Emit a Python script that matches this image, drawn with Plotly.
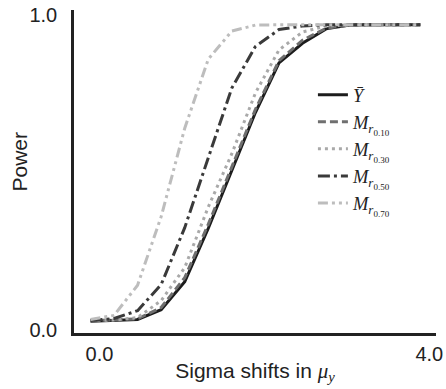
import plotly.graph_objects as go

# Sigma shifts (x) and power values for each statistic
shifts = [0.0, 0.286, 0.571, 0.857, 1.143, 1.429, 1.714, 2.0, 2.286, 2.571, 2.857, 3.143, 3.429, 3.714, 4.0]

power_ybar = [0.026, 0.028, 0.032, 0.063, 0.152, 0.322, 0.505, 0.69, 0.848, 0.91, 0.956, 0.968, 0.969, 0.969, 0.969]
power_m010 = [0.028, 0.030, 0.034, 0.070, 0.165, 0.335, 0.520, 0.70, 0.855, 0.92, 0.958, 0.968, 0.969, 0.969, 0.969]
power_m030 = [0.029, 0.030, 0.038, 0.092, 0.197, 0.390, 0.559, 0.752, 0.889, 0.946, 0.965, 0.969, 0.969, 0.969, 0.969]
power_m050 = [0.029, 0.035, 0.060, 0.143, 0.324, 0.546, 0.768, 0.900, 0.954, 0.965, 0.969, 0.969, 0.969, 0.969, 0.969]
power_m070 = [0.032, 0.045, 0.141, 0.359, 0.640, 0.860, 0.949, 0.968, 0.969, 0.969, 0.969, 0.969, 0.969, 0.969, 0.969]

series_names = [
    "<i>Ȳ</i>",
    "<i>M</i><sub><i>r</i><sub>0.10</sub></sub>",
    "<i>M</i><sub><i>r</i><sub>0.30</sub></sub>",
    "<i>M</i><sub><i>r</i><sub>0.50</sub></sub>",
    "<i>M</i><sub><i>r</i><sub>0.70</sub></sub>",
]
series_values = [power_ybar, power_m010, power_m030, power_m050, power_m070]
series_colors = ["#1c1c1c", "#6f6f6f", "#a9a9a9", "#3a3a3a", "#bdbdbd"]
series_dash = ["solid", "8px,4px", "3px,4px", "12px,4px,3px,4px", "10px,4px,3px,4px,3px,4px"]

x_ticks = [0, 4]
x_ticktext = ["0.0", "4.0"]
y_ticks = [0, 1]
y_ticktext = ["0.0", "1.0"]
x_title = ("Sigma shifts in <span style='font-family:Liberation Serif'><i>μ</i>"
           "<sub><i>y</i></sub></span>")
y_title = "Power"

fig = go.Figure()
for name, vals, col, dash in zip(series_names, series_values, series_colors, series_dash):
    fig.add_trace(go.Scatter(x=shifts, y=vals, mode="lines", name=name,
                             line=dict(color=col, width=3, dash=dash)))

fig.update_layout(
    width=446, height=389,
    margin=dict(l=73.5, r=10, t=10, b=55.5, autoexpand=False),
    paper_bgcolor="white", plot_bgcolor="white",
    font=dict(family="Liberation Sans, Arial, sans-serif", size=20, color="#222"),
    showlegend=True,
    legend=dict(x=0.66, y=0.795, xanchor="left", yanchor="top",
                font=dict(family="Liberation Serif, Times New Roman, serif", size=18.5, color="#222"),
                bgcolor="rgba(0,0,0,0)", tracegroupgap=0),
    annotations=[dict(text=y_title, textangle=-90, xref="paper", yref="paper",
                      x=-0.150, y=0.530, xanchor="center", yanchor="middle",
                      showarrow=False, font=dict(size=21))],
)
fig.update_xaxes(range=[-0.2, 4.19], showgrid=False, zeroline=False, automargin=False,
                 showline=True, linecolor="#222", linewidth=2.5,
                 tickvals=x_ticks, ticktext=x_ticktext, ticks="",
                 ticklabelshift=9, ticklabelstandoff=1,
                 title=dict(text=x_title, standoff=0, font=dict(size=21)))
fig.update_yaxes(range=[-0.011, 1.016], showgrid=False, zeroline=False, automargin=False,
                 showline=True, linecolor="#222", linewidth=2.5,
                 tickvals=y_ticks, ticktext=y_ticktext, ticks="",
                 ticklabelstandoff=10)

fig.write_html("out.html", config={"displayModeBar": False},
               post_script="document.body.style.margin='0';document.body.style.overflow='hidden';")
